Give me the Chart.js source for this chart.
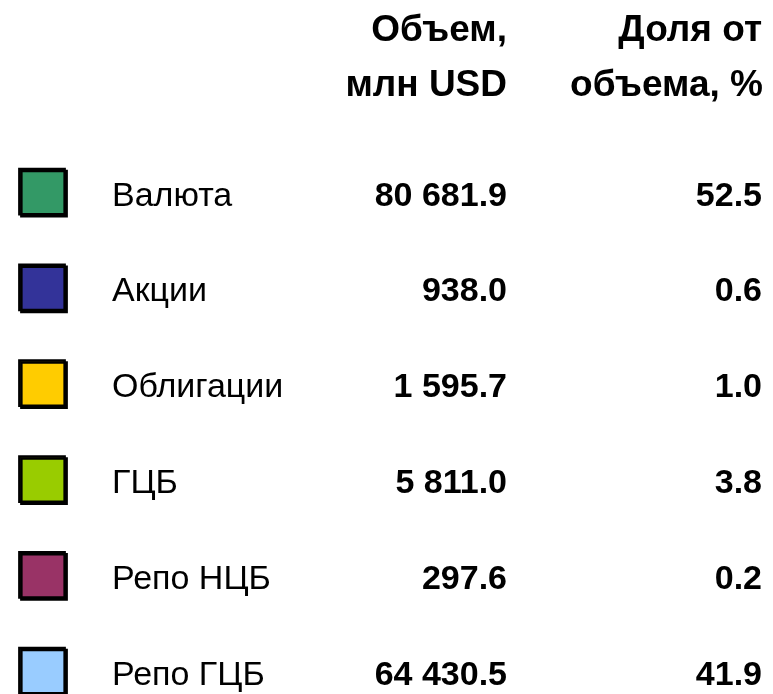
<!DOCTYPE html>
<html>
<head>
<meta charset="utf-8">
<script src="https://cdn.jsdelivr.net/npm/chart.js@4"></script>
<style>
  html, body { margin: 0; padding: 0; background: #fff; }
  #wrap { width: 773px; height: 694px; position: relative; }
</style>
</head>
<body>
<div id="wrap"><canvas id="legendChart" width="773" height="694"></canvas></div>
<script>
// ── Data ──
const categories = ['Валюта', 'Акции', 'Облигации', 'ГЦБ', 'Репо НЦБ', 'Репо ГЦБ'];
const volumes = ['80 681.9', '938.0', '1 595.7', '5 811.0', '297.6', '64 430.5'];
const shares = ['52.5', '0.6', '1.0', '3.8', '0.2', '41.9'];
const colors = ['#339966', '#333399', '#FFCC00', '#99CC00', '#993366', '#99CCFF'];
const headerVolume = ['Объем,', 'млн USD'];
const headerShare = ['Доля от', 'объема, %'];

const FONT = "'Liberation Sans', Arial, sans-serif";

// ── Text columns drawn next to each square ──
const tablePlugin = {
  id: 'tableText',
  beforeDatasetsDraw(chart) {
    // small drop shadow under the squares
    const ctx = chart.ctx;
    ctx.save();
    ctx.shadowColor = '#000';
    ctx.shadowOffsetX = 2;
    ctx.shadowOffsetY = 2;
    ctx.shadowBlur = 0;
  },
  afterDatasetsDraw(chart) {
    const ctx = chart.ctx;
    ctx.restore();
    const y = chart.scales.y;
    ctx.save();
    ctx.fillStyle = '#000';
    ctx.textBaseline = 'alphabetic';

    // headers
    ctx.font = 'bold 37px ' + FONT;
    ctx.textAlign = 'right';
    ctx.fillText(headerVolume[0], 507, 41);
    ctx.fillText(headerVolume[1], 507, 96);
    ctx.fillText(headerShare[0], 762, 41);
    ctx.fillText(headerShare[1], 763, 96);

    categories.forEach((name, i) => {
      const py = y.getPixelForValue(i) + 14;
      ctx.font = '34px ' + FONT;
      ctx.textAlign = 'left';
      ctx.fillText(name, 112, py);
      ctx.font = 'bold 34px ' + FONT;
      ctx.textAlign = 'right';
      ctx.fillText(volumes[i], 507, py);
      ctx.fillText(shares[i], 762, py);
    });
    ctx.restore();
  }
};

new Chart(document.getElementById('legendChart'), {
  type: 'scatter',
  data: {
    datasets: [{
      data: categories.map((c, i) => ({ x: 0, y: i })),
      pointStyle: 'rect',
      pointRadius: 32,
      pointHoverRadius: 32,
      pointBackgroundColor: colors,
      pointBorderColor: '#000',
      pointBorderWidth: 2.5,
      clip: false,
    }]
  },
  options: {
    responsive: false,
    animation: false,
    events: [],
    layout: { padding: 0, autoPadding: false },
    plugins: { legend: { display: false }, tooltip: { enabled: false } },
    scales: {
      x: { type: 'linear', display: false, min: -42, max: 731 },
      y: { type: 'linear', display: false, reverse: true, min: -2.0, max: 5.244 },
    }
  },
  plugins: [tablePlugin]
});
</script>
</body>
</html>
